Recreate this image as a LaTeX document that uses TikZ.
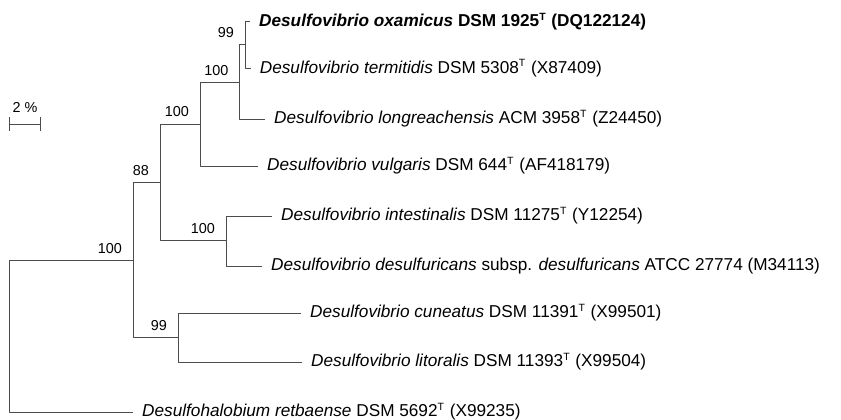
\documentclass[tikz,border=0pt]{standalone}
\usepackage{fontspec}
\setmainfont{Liberation Sans}
\newcommand\typT{\textsuperscript{\fontsize{10.5}{10.5}\selectfont T}\kern0.5pt}
\begin{document}
\begin{tikzpicture}[x=1pt, y=-1pt, line join=round, line cap=butt,
	branch/.style={draw=black!70, line width=0.9pt},
	leaf/.style={anchor=west, inner xsep=9pt, inner ysep=0pt, font=\fontsize{17.2}{20}\selectfont},
	boot/.style={anchor=base east, inner sep=0pt, xshift=-11pt, yshift=7pt, font=\fontsize{14.4}{16}\selectfont}]
	\useasboundingbox (0,0) rectangle (841,420);
	% Nút trong của cây (x của nhánh dọc, y của cuống)
	\coordinate (n99a) at (245,44.5);
	\coordinate (n100a) at (239.5,82);
	\coordinate (n100b) at (200,124);
	\coordinate (n100c) at (226,240);
	\coordinate (n88) at (160,182);
	\coordinate (n99b) at (178,337);
	\coordinate (n100d) at (133,260);
	\coordinate (root) at (9.3,336);
	% Các lá
	\node[leaf] (oxa) at (250,21.5) {\bfseries\textit{Desulfovibrio oxamicus} DSM 1925\typT\ (DQ122124)};
	\node[leaf] (ter) at (250.7,68.3) {\textit{Desulfovibrio termitidis} DSM 5308\typT\ (X87409)};
	\node[leaf] (lon) at (265,119) {\textit{Desulfovibrio longreachensis} ACM 3958\typT\ (Z24450)};
	\node[leaf] (vul) at (258,166) {\textit{Desulfovibrio vulgaris} DSM 644\typT\ (AF418179)};
	\node[leaf] (int) at (272,216) {\textit{Desulfovibrio intestinalis} DSM 11275\typT\ (Y12254)};
	\node[leaf] (des) at (262,266) {\textit{Desulfovibrio desulfuricans} subsp. \textit{desulfuricans} ATCC 27774 (M34113)};
	\node[leaf] (cun) at (301,313) {\textit{Desulfovibrio cuneatus} DSM 11391\typT\ (X99501)};
	\node[leaf] (lit) at (302,362) {\textit{Desulfovibrio litoralis} DSM 11393\typT\ (X99504)};
	\node[leaf] (ret) at (133,412) {\textit{Desulfohalobium retbaense} DSM 5692\typT\ (X99235)};
	% Vẽ các nhánh
	\foreach \p/\c in {n99a/oxa.west, n99a/ter.west, n100a/n99a, n100a/lon.west,
		n100b/n100a, n100b/vul.west, n100c/int.west, n100c/des.west,
		n88/n100b, n88/n100c, n99b/cun.west, n99b/lit.west,
		n100d/n88, n100d/n99b, root/n100d, root/ret.west}
	\draw[branch] (\p) |- (\c);
	% Giá trị bootstrap
	\foreach \n/\v in {n99a/99, n100a/100, n100b/100, n100c/100, n88/88, n99b/99, n100d/100}
	\node[boot] (b-\n) at (\n) {\v};
	% Thước tỉ lệ
	\coordinate (sL) at (9.3,124);
	\coordinate (sR) at (40.7,124);
	\draw[branch] ([yshift=7pt]sL) -- ([yshift=-7pt]sL) (sL) -- (sR) ([yshift=7pt]sR) -- ([yshift=-7pt]sR);
	\node[font=\fontsize{14.4}{16}\selectfont, anchor=base] (sbar) at (25,113) {2 \%};
\end{tikzpicture}
\end{document}
